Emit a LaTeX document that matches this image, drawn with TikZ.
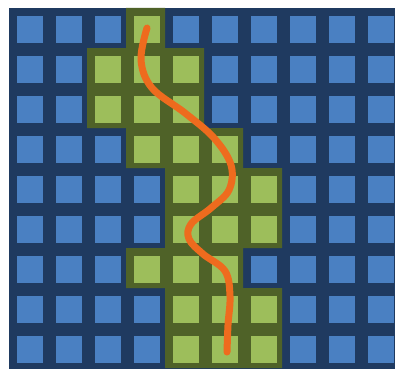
\documentclass[tikz,border=0pt]{standalone}
\definecolor{navy}{HTML}{1F3A60}
\definecolor{cellblue}{HTML}{4A80C2}
\definecolor{cellgreen}{HTML}{9DBE5B}
\definecolor{olive}{HTML}{4F6228}
\definecolor{path}{HTML}{EE6B1E}
\begin{document}
\begin{tikzpicture}[x=1pt,y=-1pt,
  bluecell/.style={fill=cellblue},
  greencell/.style={fill=cellgreen},
  route/.style={draw=path,line width=7pt,line cap=round,line join=round}]
\useasboundingbox[fill=white] (0,0) rectangle (395,369);
\begin{scope}
\clip (9,8) rectangle (395,369);
\fill[navy] (9,8) rectangle (400,369);
% olive region (tiles under green cells)
\fill[olive]
  \foreach \r/\cols in {0/{3},1/{2,3,4},2/{2,3,4},3/{3,4,5},4/{4,5,6},5/{4,5,6},6/{3,4,5},7/{4,5,6},8/{4,5,6}}{
    \foreach \c in \cols {
      ({9+39*\c},{8+40*\r}) rectangle ({9+39*(\c+1)},{8+40*(\r+1)})
    }
  };
% cells
\foreach \r in {0,...,8}{
  \foreach \c in {0,...,9}{
    \fill[bluecell] ({17+39*\c},{16+40*\r}) rectangle ++(26,27);
  }
}
\foreach \r/\cols in {0/{3},1/{2,3,4},2/{2,3,4},3/{3,4,5},4/{4,5,6},5/{4,5,6},6/{3,4,5},7/{4,5,6},8/{4,5,6}}{
  \foreach \c in \cols {
    \fill[greencell] ({17+39*\c},{16+40*\r}) rectangle ++(26,27);
  }
}
\end{scope}
% route
\coordinate (start) at (147,28);
\coordinate (finish) at (227,352);
\draw[route] plot[smooth,tension=0.6] coordinates {(start) (141,60) (152,88) (185,113) (214,138) (231,165) (229,190) (211,208) (191,224) (189,239) (203,254) (225,271) (230,296) (228,325) (finish)};
\end{tikzpicture}
\end{document}
